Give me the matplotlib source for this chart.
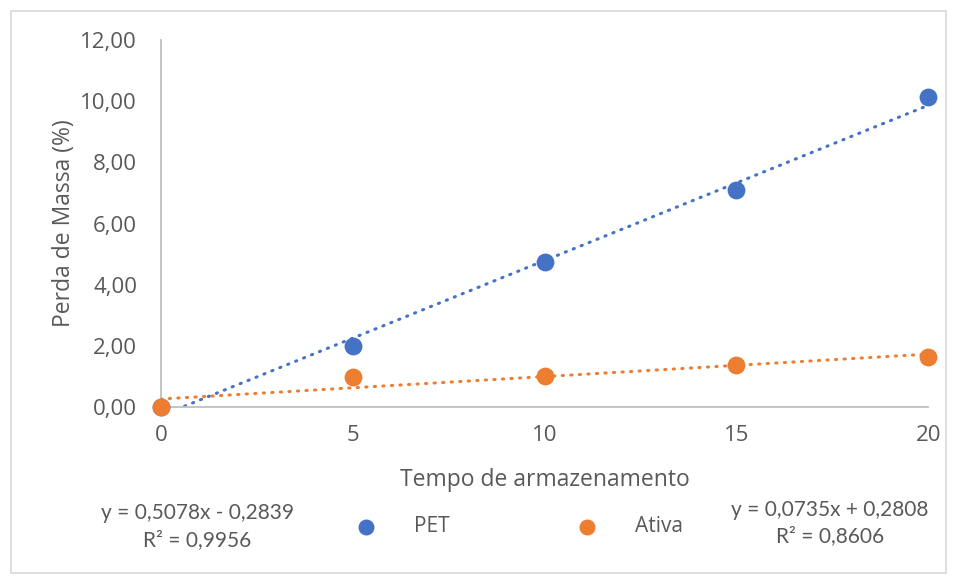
import numpy as np
import matplotlib.pyplot as plt
from matplotlib.patches import Rectangle

plt.rcParams['font.family'] = ['Open Sans', 'DejaVu Sans']

# data
tempo = [0, 5, 10, 15, 20]
pet = [0.0, 1.99, 4.74, 7.10, 10.13]
ativa = [0.0, 0.98, 1.01, 1.37, 1.64]

eq_pet = ["y = 0,5078x - 0,2839", "R² = 0,9956"]
eq_ativa = ["y = 0,0735x + 0,2808", "R² = 0,8606"]

blue = '#4472C4'
orange = '#ED7D31'
gray_txt = '#595959'
gray_line = '#BFBFBF'

fig = plt.figure(figsize=(9.57, 5.8), dpi=100)
fig.patches.append(Rectangle((0.011, 0.012), 0.978, 0.969, transform=fig.transFigure,
                             fill=False, edgecolor='#D9D9D9', linewidth=1.2))
ax = fig.add_axes([0.168, 0.298, 0.802, 0.633])

# trendlines (linear fit)
xx = np.linspace(0, 20, 200)
for ys, c in [(pet, blue), (ativa, orange)]:
    m, b = np.polyfit(tempo, ys, 1)
    ax.plot(xx, m * xx + b, linestyle=(0, (0.4, 2.4)), dash_capstyle='round',
            color=c, linewidth=2.2, zorder=2)

ax.scatter(tempo, pet, s=140, color=blue, zorder=3, clip_on=False)
ax.scatter(tempo, ativa, s=140, color=orange, zorder=3, clip_on=False)

ax.set_xlim(0, 20)
ax.set_ylim(0, 12)
ax.set_xticks([0, 5, 10, 15, 20])
ax.set_yticks(np.arange(0, 13, 2))
ax.set_yticklabels([f"{v:.2f}".replace('.', ',') for v in np.arange(0, 13, 2)])
ax.tick_params(length=0, labelsize=16, colors=gray_txt, pad=17)
ax.tick_params(axis='x', pad=13)

for s in ['top', 'right']:
    ax.spines[s].set_visible(False)
for s in ['left', 'bottom']:
    ax.spines[s].set_color(gray_line)
    ax.spines[s].set_linewidth(1.3)

ax.set_xlabel('Tempo de armazenamento', fontsize=16.5, color=gray_txt, labelpad=16)
ax.set_ylabel('Perda de Massa (%)', fontsize=16.5, color=gray_txt, labelpad=3)

# legend
ax.scatter([], [], s=110, color=blue, label='PET')
ax.scatter([], [], s=110, color=orange, label='Ativa')
fig.legend(*ax.get_legend_handles_labels(), loc='center', bbox_to_anchor=(0.537, 0.092),
           ncol=2, frameon=False, fontsize=15, labelcolor=gray_txt,
           columnspacing=5.6, handletextpad=1.3)

# trendline equations
fig.text(0.206, 0.092, "\n".join(eq_pet), ha='center', va='center', fontsize=15,
         color=gray_txt, linespacing=1.4, family=['Lato', 'DejaVu Sans'])
fig.text(0.867, 0.098, "\n".join(eq_ativa), ha='center', va='center', fontsize=15,
         color=gray_txt, linespacing=1.4, family=['Lato', 'DejaVu Sans'])

fig.savefig('out.png', dpi=100)
